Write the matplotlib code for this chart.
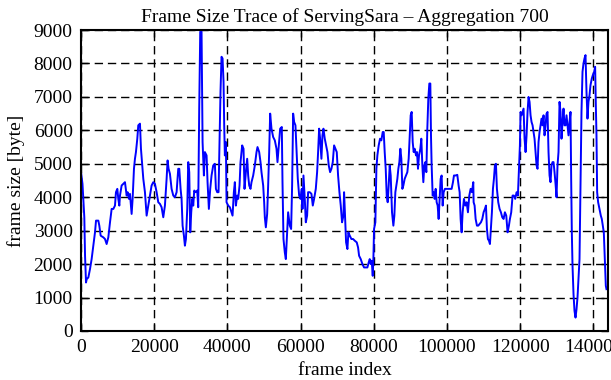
import matplotlib
matplotlib.use('Agg')
import matplotlib.pyplot as plt

# frame index / frame size
frame_index = [
    0, 400, 900, 1100, 1365, 1550, 2000, 2450, 2900, 3370, 3820, 4100, 4730, 5000, 5370,
    6100, 6550, 7000, 7460, 7920, 8370, 8830, 9280, 9550, 9920, 10190, 10470, 10650,
    11100, 11560, 12010, 12470, 12740, 13100, 13380, 13830, 14100, 14470, 14740, 15010,
    15380, 15650, 16110, 16380, 16740, 17020, 17470, 17930, 18380, 18840, 19290, 19750,
    20200, 20660, 21110, 21570, 22020, 22480, 22930, 23390, 23660, 23930, 24300, 24750,
    25210, 25660, 26120, 26570, 26850, 27210, 27480, 27760, 28120, 28390, 28670, 29030,
    29300, 29580, 29850, 30120, 30390, 30670, 30940, 31300, 31760, 32030, 32300, 32580,
    32940, 33220, 33580, 33850, 34310, 34580, 34940, 35310, 35670, 36130,
    36580, 36860, 37220, 37580, 37860, 38130, 38400, 38680, 38950, 39130, 39310, 39590,
    39770, 40220, 40680, 41130, 41410, 41770, 42040, 42320, 42680, 42950, 43320, 43590,
    44040, 44410, 44680, 45050, 45410, 45680, 45960, 46320, 46590, 47050, 47500, 47960,
    48230, 48690, 49050, 49320, 49780, 50050, 50230, 50510, 50870, 51140, 51420, 51690,
    52050, 52510, 52960, 53420, 53690, 54050, 54420, 54870, 55060, 55330, 55690, 55970,
    56240, 56600, 57060, 57420, 57690, 57970, 58240, 58600, 58880, 59240, 59610, 59970,
    60330, 60520, 60790, 61150, 61430, 61790, 62060, 62520, 62970, 63340, 63700, 64160,
    64520, 64790, 65070, 65340, 65700, 65980, 66250, 66610, 66980, 67340, 67700, 68070,
    68430, 68800, 69160, 69520, 69890, 70250, 70620, 70980, 71340, 71710,
    71890, 72160, 72440, 72800, 73070, 73440, 73890, 74350, 74800, 75350, 75710, 75990,
    76440, 76900, 77350, 77810, 78260, 78620, 78900, 79170, 79440, 79720, 79900, 80080,
    80440, 80720, 80990, 81350, 81720, 82080, 82450, 82720, 82990, 83270, 83540, 83810,
    84080, 84360, 84630, 84990, 85360, 85630, 85900, 86180, 86450, 86720, 87000, 87270,
    87540, 87820, 88090, 88450, 88820, 89180, 89540, 89820, 90090, 90360, 90640, 90910,
    91180, 91550, 91820, 92090, 92370, 92730, 93000, 93280, 93550, 93820, 94090, 94370,
    94640, 94910, 95190, 95460, 95640, 95820, 96100, 96370, 96640, 96920, 97190, 97460,
    97730, 98010, 98280, 98550, 98830, 99100, 99460, 99920, 100370, 100830, 101280,
    101650, 101920, 102380, 102830, 103190, 103470, 103740, 104010, 104290, 104650,
    105010, 105380, 105740, 106110, 106470, 106830, 107200,
    107290, 107560, 107840, 108200, 108560, 108930, 109290, 109660, 110020, 110380,
    110660, 110930, 111200, 111480, 111750, 112020, 112290, 112570, 112840, 113110,
    113390, 113660, 114020, 114390, 114750, 115120, 115480, 115840, 116210, 116570,
    116940, 117210, 117570, 117940, 118300, 118660, 119030, 119390, 119670, 119940,
    120120, 120390, 120670, 120940, 121210, 121490, 121760, 122030, 122300, 122580,
    122850, 123120, 123400, 123670, 123940, 124220, 124490, 124760, 125030, 125310,
    125580, 125850, 126130, 126400, 126670, 126950, 127220, 127490, 127760, 128040,
    128310, 128580, 128860, 129130, 129400, 129680, 129950, 130220, 130490, 130770,
    131040, 131310, 131590, 131860, 132130, 132410, 132680, 132950, 133220, 133500,
    133770, 133950, 134130, 134320, 134590, 134860, 135140, 135410, 135680, 135950,
    136230, 136500, 136770, 137050, 137320, 137590, 137870, 138140, 138410, 138680,
    138960, 139230, 139590, 139870, 140230, 140500, 140690, 140870, 141050, 141320,
    141690, 142050, 142320, 142600, 142870, 143140, 143420, 143600,
]
frame_size = [
    4750, 4400, 3400, 2250, 1450, 1550, 1600, 1850, 2150, 2550, 2950, 3300, 3300, 3150, 2850,
    2800, 2750, 2600, 2800, 3250, 3650, 3650, 3750, 4150, 4250, 3950, 3750, 4050,
    4350, 4400, 4450, 4050, 4150, 3950, 4100, 3500, 3950, 4850, 5150, 5350,
    5750, 6150, 6200, 5450, 4950, 4550, 4150, 3450, 3750, 4050, 4350, 4450,
    4400, 4150, 3850, 3800, 3700, 3400, 3750, 4550, 5100, 4850, 4700, 4250,
    4050, 4000, 4150, 4850, 4850, 4250, 3950, 3150, 2850, 2550, 2750, 3650,
    5050, 4750, 2950, 3550, 3950, 3750, 4200, 4150, 4200, 3700, 6650, 8950,
    8950, 5650, 4650, 5350, 5250, 4450, 3650, 4250, 4650, 4950,
    5000, 4250, 4150, 4150, 5650, 7200, 8200, 8150, 7450, 6150, 5250, 5650,
    3850, 3750, 3700, 3550, 3450, 4150, 4450, 3750, 4050, 3950, 4350, 5050,
    5550, 5450, 4250, 4750, 5150, 4650, 4350, 4250, 4450, 4650, 4950, 5350,
    5500, 5350, 5050, 4750, 4350, 3850, 3400, 3100, 3500, 4350, 5350, 6500,
    6050, 5800, 5700, 5450, 5050, 5550, 6050, 6100, 4450, 2750, 2350, 2150,
    2750, 3550, 3150, 3050, 4350, 6500, 6250, 6150, 5450, 4550, 4050, 3950,
    4250, 3650, 4650, 3950, 3250, 3450, 4150, 4150, 4100, 3750, 3950, 4250,
    4750, 5350, 6050, 5750, 5150, 5850, 6050, 5750, 5550, 5350, 4950, 4750,
    4850, 5050, 5550, 5450, 5350, 4650, 4150, 3750, 3250, 3450,
    4150, 3450, 2650, 2450, 2950, 2850, 2750, 2750, 2700, 2650, 2500, 2250,
    2150, 2000, 1900, 1900, 1900, 2050, 2150, 2000, 2100, 1650, 2150, 3050,
    3250, 4850, 5250, 5550, 5750, 5700, 5950, 5950, 5350, 4850, 4050, 3850,
    4350, 4950, 4650, 3550, 3150, 3450, 4150, 4350, 4550, 4850, 5050, 5450,
    5150, 4250, 4350, 4550, 4650, 4750, 5150, 5850, 6450, 6550, 5650, 5350,
    5450, 5250, 5350, 4850, 5250, 5450, 5750, 4950, 4450, 4950, 5050, 4750,
    6050, 6950, 7400, 7400, 5850, 4950, 4050, 4150, 3950, 4250, 3850, 3750,
    3350, 3950, 4550, 4650, 3750, 4150, 4250, 4250, 4250, 4250, 4250,
    4450, 4650, 4650, 4670, 4350, 4150, 3350, 2950, 3550, 3950,
    3750, 3850, 3550, 4050, 4250, 4150, 4450,
    3850, 3750, 3350, 3150, 3150, 3200, 3250, 3350, 3550, 3650,
    3750, 3050, 2750, 2700, 2600, 3050, 3550, 4250, 4550, 4950,
    5000, 4250, 3850, 3650, 3550, 3400, 3350, 3550, 3450, 2950,
    3150, 3350, 3550, 4050, 4050, 3950, 4150, 4050, 4850, 5550,
    6550, 6450, 6550, 6650, 5750, 5350, 5850, 6550, 7000, 6850,
    6450, 6250, 6150, 5950, 5750, 5350, 4950, 4850, 5650, 5950,
    6150, 6350, 6150, 6450, 5850, 6150, 6500, 6550, 5350, 4650,
    4450, 4950, 5050, 5050, 4750, 4400, 4000, 4950, 5350, 6850,
    6550, 5750, 6250, 6650, 6150, 6150, 6450, 6150, 5850, 6250,
    6550, 4550, 2950, 1950, 1100, 600, 400, 650, 1000, 1550,
    2150, 4250, 6550, 7750, 8000, 8150, 8250, 7150, 6350, 6850,
    7050, 7350, 7550, 7650, 7750, 7900, 6750, 5850, 4150, 3850,
    3650, 3450, 3350, 3150, 2950, 2150, 1350, 1250,
]

plt.rcParams['font.family'] = ['Liberation Serif', 'DejaVu Serif']
plt.rcParams['font.size'] = 14

fig, ax = plt.subplots(figsize=(6.11, 3.8), dpi=100)
fig.subplots_adjust(left=0.1326, right=0.995, bottom=0.129, top=0.921)

ax.plot(frame_index, frame_size, color='#0000ff', lw=1.4)

ax.set_xlim(0, 144000)
ax.set_ylim(0, 9000)
ax.set_xticks(range(0, 140001, 20000))
ax.set_yticks(range(0, 9001, 1000))
ax.tick_params(direction='in', length=5, width=1, top=True, right=True, pad=6)
ax.grid(True, color='black', linestyle=(0, (6, 3.5)), linewidth=1.0)
for s in ax.spines.values():
    s.set_linewidth(1.5)

ax.set_xlabel('frame index', labelpad=4)
ax.set_ylabel('frame size [byte]', labelpad=6)
ax.set_title('Frame Size Trace of ServingSara \u2013 Aggregation 700', fontsize=14, pad=6)

fig.savefig('out.png', dpi=100)
